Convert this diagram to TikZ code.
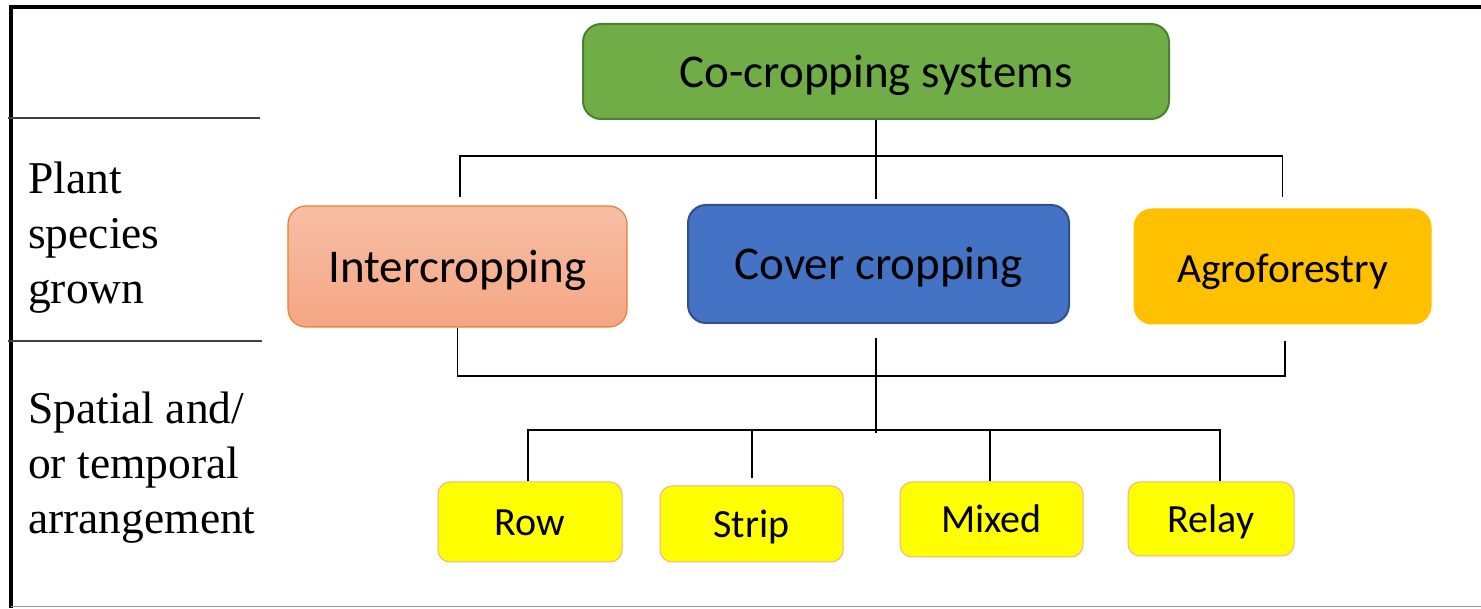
\documentclass[tikz,border=0pt]{standalone}
\usepackage{fontspec}
\newfontfamily\boxfont{Carlito}
\newfontfamily\rotfont{Liberation Serif}
\definecolor{verde}{HTML}{70AD47}
\definecolor{verdeborde}{HTML}{507E32}
\definecolor{salmonarriba}{HTML}{F7BEA5}
\definecolor{salmonabajo}{HTML}{F4A683}
\definecolor{naranja}{HTML}{ED7D31}
\definecolor{azul}{HTML}{4472C4}
\definecolor{azulborde}{HTML}{2F528F}
\definecolor{ambar}{HTML}{FFC000}
\definecolor{amarillo}{HTML}{FFFF00}
\definecolor{amarilloborde}{HTML}{F4B183}
\begin{document}
\begin{tikzpicture}[x=1pt,y=1pt,
    caja/.style={rounded corners=18pt, inner sep=0pt, align=center,
      text height=41pt, text depth=9pt,
      font=\boxfont\fontsize{47}{56}\selectfont},
    hoja/.style={caja, rounded corners=12pt, fill=amarillo, draw=amarilloborde,
      line width=1pt, text height=35pt, text depth=8pt,
      font=\boxfont\fontsize{40}{48}\selectfont},
    rotulo/.style={anchor=north west, inner sep=0pt, align=left,
      font=\rotfont\fontsize{45.5}{55}\selectfont},
    enlace/.style={line width=1.2pt, black}]

    \useasboundingbox (0,0) rectangle (1481,608);

    % Marco
    \draw[line width=4pt] (1481,601) -- (11,601) -- (11,0);
    \draw[line width=1pt, black!40] (11,1.5) -- (1481,1.5);
    \draw[line width=1.2pt, black!75] (8,490) -- (260,490);
    \draw[line width=1.2pt, black!75] (8,267) -- (262,267);

    % Rotulos
    \node[rotulo] (especie) at (28,446) {Plant\\species\\grown};
    \node[rotulo] (arreglo) at (28,216) {Spatial and/\\or temporal\\arrangement};

    % Cajas
    \node[caja, fill=verde, draw=verdeborde, line width=2pt,
      minimum width=586pt, minimum height=95pt] (cocrop) at (876,536.5)
      {Co-cropping systems};
    \node[caja, top color=salmonarriba, bottom color=salmonabajo, draw=naranja,
      line width=1.2pt, minimum width=339pt, minimum height=121pt]
      (inter) at (457.5,341.5) {Intercropping};
    \node[caja, fill=azul, draw=azulborde, line width=2pt,
      minimum width=381pt, minimum height=118pt] (cover) at (878.5,344)
      {Cover cropping};
    \node[caja, fill=ambar, draw=ambar, line width=1pt,
      minimum width=297pt, minimum height=115pt, text height=40pt, text depth=8pt,
      font=\boxfont\fontsize{41.5}{50}\selectfont] (agro) at (1282.5,341.5)
      {Agroforestry};

    \node[hoja, minimum width=184pt, minimum height=80pt] (row) at (530,86) {Row};
    \node[hoja, minimum width=183pt, minimum height=76pt] (strip) at (751.5,84) {Strip};
    \node[hoja, minimum width=183pt, minimum height=75pt] (mixed) at (991.5,88.5) {Mixed};
    \node[hoja, minimum width=166pt, minimum height=74pt] (relay) at (1211,89) {Relay};

    % Conectores
    \coordinate (busalto) at (876,452);
    \coordinate (busmedio) at (876,232);
    \coordinate (busbajo) at (876,178);

    \draw[enlace] (cocrop.south) -- ++(0,-79);
    \draw[enlace] ([shift={(2.5pt,8pt)}]inter.north) |- (busalto)
      -| ([yshift=11pt]agro.north);
    \draw[enlace] (inter.south) |- (busmedio) -| ([shift={(2.5pt,-17pt)}]agro.south);
    \draw[enlace] ([shift={(-2.5pt,-14pt)}]cover.south) -- ++(0,-95);
    \draw[enlace] ([xshift=-2pt]row.north) |- (busbajo) -| ([xshift=9pt]relay.north);
    \draw[enlace] ([shift={(0.5pt,7pt)}]strip.north) -- ++(0,49);
    \draw[enlace] ([xshift=-1.5pt]mixed.north) -- ++(0,52);

\end{tikzpicture}
\end{document}
